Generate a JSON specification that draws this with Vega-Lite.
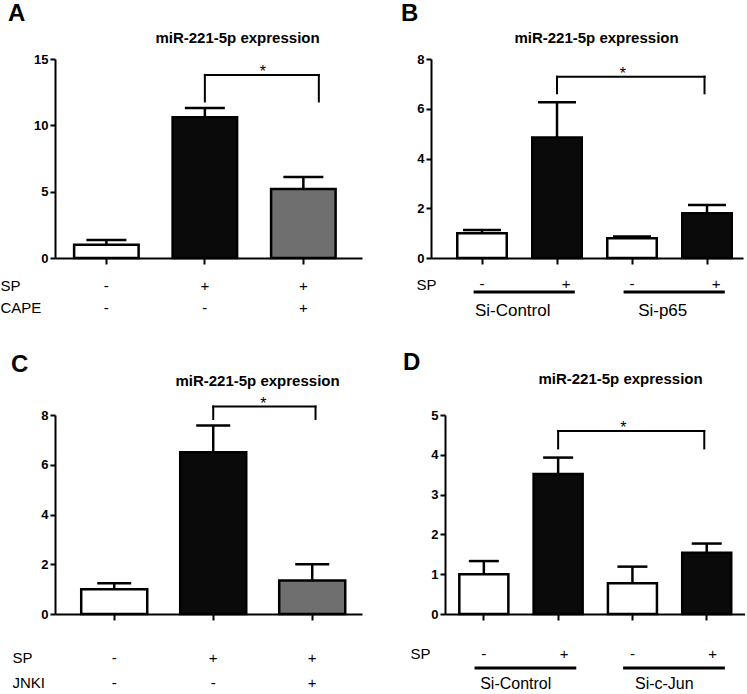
{
  "$schema": "https://vega.github.io/schema/vega-lite/v6.json",
  "background": "white",
  "padding": {"left": 0, "top": 2, "right": 0, "bottom": 0},
  "config": {
    "font": "Liberation Sans",
    "view": {"stroke": null},
    "axis": {"domainColor": "black", "domainWidth": 2, "tickColor": "black", "tickWidth": 2, "labelColor": "black", "titleColor": "black", "grid": false},
    "axisX": {"tickSize": 6, "labelFontSize": 15, "labelAngle": 0, "labelBaseline": "top", "labelPadding": 14, "labelLineHeight": 22, "titleFontSize": 15, "titleFontWeight": "normal", "titleAlign": "left", "titleBaseline": "top", "titleLineHeight": 22},
    "axisY": {"labelFontSize": 13, "labelFontWeight": "bold", "tickSize": 5, "labelPadding": 2, "labelOverlap": false, "titleAngle": 0, "titleFontSize": 15, "titleFontWeight": "bold", "titleAlign": "center", "titleBaseline": "alphabetic"},
    "title": {"fontSize": 24, "fontWeight": "bold", "color": "black", "anchor": "start", "frame": "group", "baseline": "alphabetic"}
  },
  "datasets": {
    "a": [
      {"cond": "-|-", "grp": "ctrl", "mean": 1.0, "upper": 1.35},
      {"cond": "+|-", "grp": "sp", "mean": 10.6, "upper": 11.3},
      {"cond": "+|+", "grp": "inh", "mean": 5.2, "upper": 6.1}
    ],
    "a_br": [{"x1": "+|-", "x2": "+|+", "top": 13.8, "leg": 11.8}],
    "b": [
      {"cond": "Si-Control|-", "grp": "ctrl", "mean": 1.0, "upper": 1.13},
      {"cond": "Si-Control|+", "grp": "sp", "mean": 4.84, "upper": 6.26},
      {"cond": "Si-p65|-", "grp": "ctrl", "mean": 0.79, "upper": 0.86},
      {"cond": "Si-p65|+", "grp": "sp", "mean": 1.8, "upper": 2.13}
    ],
    "b_br": [{"x1": "Si-Control|+", "x2": "Si-p65|+", "top": 7.29, "leg": 6.62}],
    "b_grp": [
      {"name": "Si-Control", "from": "Si-Control|-", "to": "Si-Control|+"},
      {"name": "Si-p65", "from": "Si-p65|-", "to": "Si-p65|+"}
    ],
    "c": [
      {"cond": "-|-", "grp": "ctrl", "mean": 1.0, "upper": 1.24},
      {"cond": "+|-", "grp": "sp", "mean": 6.5, "upper": 7.58},
      {"cond": "+|+", "grp": "inh", "mean": 1.35, "upper": 2.0}
    ],
    "c_br": [{"x1": "+|-", "x2": "+|+", "top": 8.34, "leg": 7.84}],
    "d": [
      {"cond": "Si-Control|-", "grp": "ctrl", "mean": 1.0, "upper": 1.33},
      {"cond": "Si-Control|+", "grp": "sp", "mean": 3.52, "upper": 3.93},
      {"cond": "Si-c-Jun|-", "grp": "ctrl", "mean": 0.77, "upper": 1.19},
      {"cond": "Si-c-Jun|+", "grp": "sp", "mean": 1.54, "upper": 1.77}
    ],
    "d_br": [{"x1": "Si-Control|+", "x2": "Si-c-Jun|+", "top": 4.6, "leg": 4.16}],
    "d_grp": [
      {"name": "Si-Control", "from": "Si-Control|-", "to": "Si-Control|+"},
      {"name": "Si-c-Jun", "from": "Si-c-Jun|-", "to": "Si-c-Jun|+"}
    ]
  },
  "bounds": "flush",
  "spacing": 356,
  "vconcat": [
    {
      "bounds": "flush",
      "spacing": 69,
      "hconcat": [
        {
          "width": 307, "height": 199,
          "title": {"text": "A", "dx": -47, "offset": 4},
          "layer": [
            {"data": {"name": "a"}, "mark": {"type": "bar", "stroke": "black", "strokeWidth": 2.5},
              "encoding": {
                "x": {"field": "cond", "type": "nominal", "scale": {"domain": ["-|-", "+|-", "+|+"], "paddingInner": 0.345, "paddingOuter": 0.231, "align": 0.42},
                  "axis": {"labelExpr": "split(datum.value,'|')", "title": ["SP", "CAPE"], "titleX": -55, "titleY": 20}},
                "y": {"field": "mean", "type": "quantitative", "scale": {"domain": [0, 15], "nice": false},
                  "axis": {"values": [0, 5, 10, 15], "tickCount": 4, "title": "miR-221-5p expression", "titleX": 182, "titleY": -17}},
                "fill": {"field": "grp", "type": "nominal", "scale": {"domain": ["ctrl", "sp", "inh"], "range": ["#ffffff", "#0a0a0a", "#6f6f6f"]}, "legend": null}
              }},
            {"data": {"name": "a"}, "mark": {"type": "rule", "strokeWidth": 2.5, "color": "black"},
              "encoding": {"x": {"field": "cond", "type": "nominal"}, "y": {"field": "mean", "type": "quantitative"}, "y2": {"field": "upper"}}},
            {"data": {"name": "a"}, "mark": {"type": "tick", "thickness": 2.5, "size": 40, "color": "black", "opacity": 1},
              "encoding": {"x": {"field": "cond", "type": "nominal"}, "y": {"field": "upper", "type": "quantitative"}}},
            {"data": {"name": "a_br"}, "mark": {"type": "rule", "strokeWidth": 2, "color": "black", "strokeCap": "square"},
              "encoding": {"x": {"field": "x1", "type": "nominal"}, "x2": {"field": "x2", "bandPosition": 0.74}, "y": {"field": "top", "type": "quantitative"}}},
            {"data": {"name": "a_br"}, "mark": {"type": "rule", "strokeWidth": 2, "color": "black", "strokeCap": "square"},
              "encoding": {"x": {"field": "x1", "type": "nominal"}, "y": {"field": "top", "type": "quantitative"}, "y2": {"field": "leg"}}},
            {"data": {"name": "a_br"}, "mark": {"type": "rule", "strokeWidth": 2, "color": "black", "strokeCap": "square"},
              "encoding": {"x": {"field": "x2", "type": "nominal", "bandPosition": 0.74}, "y": {"field": "top", "type": "quantitative"}, "y2": {"field": "leg"}}},
            {"data": {"name": "a_br"}, "mark": {"type": "text", "fontSize": 16, "color": "black", "baseline": "alphabetic", "dy": 2},
              "encoding": {"x": {"field": "x1", "type": "nominal", "bandPosition": 1.4}, "y": {"field": "top", "type": "quantitative"}, "text": {"value": "*"}}}
          ]
        },
        {
          "width": 312, "height": 199,
          "title": {"text": "B", "dx": -30, "offset": 4},
          "layer": [
            {"data": {"name": "b"}, "mark": {"type": "bar", "stroke": "black", "strokeWidth": 2.5},
              "encoding": {
                "x": {"field": "cond", "type": "nominal", "scale": {"domain": ["Si-Control|-", "Si-Control|+", "Si-p65|-", "Si-p65|+"], "paddingInner": 0.34, "paddingOuter": 0.25, "align": 0.7},
                  "axis": {"labelExpr": "split(datum.value,'|')[1]", "labelOffset": {"condition": {"test": "indexof(datum.value, '|+') > 0", "value": 9}, "value": 0}, "labelPadding": 12, "title": "SP", "titleX": -15, "titleY": 19}},
                "y": {"field": "mean", "type": "quantitative", "scale": {"domain": [0, 8], "nice": false},
                  "axis": {"values": [0, 2, 4, 6, 8], "tickCount": 5, "title": "miR-221-5p expression", "titleX": 165, "titleY": -17}},
                "fill": {"field": "grp", "type": "nominal", "scale": {"domain": ["ctrl", "sp", "inh"], "range": ["#ffffff", "#0a0a0a", "#6f6f6f"]}, "legend": null}
              }},
            {"data": {"name": "b"}, "mark": {"type": "rule", "strokeWidth": 2.5, "color": "black"},
              "encoding": {"x": {"field": "cond", "type": "nominal"}, "y": {"field": "mean", "type": "quantitative"}, "y2": {"field": "upper"}}},
            {"data": {"name": "b"}, "mark": {"type": "tick", "thickness": 2.5, "size": 38, "color": "black", "opacity": 1},
              "encoding": {"x": {"field": "cond", "type": "nominal"}, "y": {"field": "upper", "type": "quantitative"}}},
            {"data": {"name": "b_br"}, "mark": {"type": "rule", "strokeWidth": 2, "color": "black", "strokeCap": "square"},
              "encoding": {"x": {"field": "x1", "type": "nominal"}, "x2": {"field": "x2", "bandPosition": 0.45}, "y": {"field": "top", "type": "quantitative"}}},
            {"data": {"name": "b_br"}, "mark": {"type": "rule", "strokeWidth": 2, "color": "black", "strokeCap": "square"},
              "encoding": {"x": {"field": "x1", "type": "nominal"}, "y": {"field": "top", "type": "quantitative"}, "y2": {"field": "leg"}}},
            {"data": {"name": "b_br"}, "mark": {"type": "rule", "strokeWidth": 2, "color": "black", "strokeCap": "square"},
              "encoding": {"x": {"field": "x2", "type": "nominal", "bandPosition": 0.45}, "y": {"field": "top", "type": "quantitative"}, "y2": {"field": "leg"}}},
            {"data": {"name": "b_br"}, "mark": {"type": "text", "fontSize": 16, "color": "black", "baseline": "alphabetic", "dy": 2},
              "encoding": {"x": {"field": "x1", "type": "nominal", "bandPosition": 1.83}, "y": {"field": "top", "type": "quantitative"}, "text": {"value": "*"}}},
            {"data": {"name": "b_grp"}, "mark": {"type": "rule", "strokeWidth": 3, "color": "black", "yOffset": 34},
              "encoding": {"x": {"field": "from", "type": "nominal", "bandPosition": 0.33}, "x2": {"field": "to", "bandPosition": 0.86},
                "y": {"datum": 0, "type": "quantitative"}}},
            {"data": {"name": "b_grp"}, "mark": {"type": "text", "fontSize": 17, "color": "black", "baseline": "top", "dy": 45},
              "encoding": {"x": {"field": "from", "type": "nominal", "bandPosition": 1.12},
                "y": {"datum": 0, "type": "quantitative"}, "text": {"field": "name"}}}
          ]
        }
      ]
    },
    {
      "bounds": "flush",
      "spacing": 83,
      "hconcat": [
        {
          "width": 307, "height": 199,
          "title": {"text": "C", "dx": -44, "offset": -4},
          "layer": [
            {"data": {"name": "c"}, "mark": {"type": "bar", "stroke": "black", "strokeWidth": 2.5},
              "encoding": {
                "x": {"field": "cond", "type": "nominal", "scale": {"domain": ["-|-", "+|-", "+|+"], "paddingInner": 0.333, "paddingOuter": 0.217, "align": 0.61},
                  "axis": {"labelExpr": "split(datum.value,'|')", "labelPadding": 30, "labelLineHeight": 25, "title": ["SP", "JNKI"], "titleLineHeight": 25, "titleX": -43, "titleY": 36}},
                "y": {"field": "mean", "type": "quantitative", "scale": {"domain": [0, 8], "nice": false},
                  "axis": {"values": [0, 2, 4, 6, 8], "tickCount": 5, "title": "miR-221-5p expression", "titleX": 202, "titleY": -30}},
                "fill": {"field": "grp", "type": "nominal", "scale": {"domain": ["ctrl", "sp", "inh"], "range": ["#ffffff", "#0a0a0a", "#6f6f6f"]}, "legend": null}
              }},
            {"data": {"name": "c"}, "mark": {"type": "rule", "strokeWidth": 2.5, "color": "black"},
              "encoding": {"x": {"field": "cond", "type": "nominal"}, "y": {"field": "mean", "type": "quantitative"}, "y2": {"field": "upper"}}},
            {"data": {"name": "c"}, "mark": {"type": "tick", "thickness": 2.5, "size": 34, "color": "black", "opacity": 1},
              "encoding": {"x": {"field": "cond", "type": "nominal"}, "y": {"field": "upper", "type": "quantitative"}}},
            {"data": {"name": "c_br"}, "mark": {"type": "rule", "strokeWidth": 2, "color": "black", "strokeCap": "square"},
              "encoding": {"x": {"field": "x1", "type": "nominal"}, "x2": {"field": "x2", "bandPosition": 0.55}, "y": {"field": "top", "type": "quantitative"}}},
            {"data": {"name": "c_br"}, "mark": {"type": "rule", "strokeWidth": 2, "color": "black", "strokeCap": "square"},
              "encoding": {"x": {"field": "x1", "type": "nominal"}, "y": {"field": "top", "type": "quantitative"}, "y2": {"field": "leg"}}},
            {"data": {"name": "c_br"}, "mark": {"type": "rule", "strokeWidth": 2, "color": "black", "strokeCap": "square"},
              "encoding": {"x": {"field": "x2", "type": "nominal", "bandPosition": 0.55}, "y": {"field": "top", "type": "quantitative"}, "y2": {"field": "leg"}}},
            {"data": {"name": "c_br"}, "mark": {"type": "text", "fontSize": 16, "color": "black", "baseline": "alphabetic", "dy": 2},
              "encoding": {"x": {"field": "x1", "type": "nominal", "bandPosition": 1.26}, "y": {"field": "top", "type": "quantitative"}, "text": {"value": "*"}}}
          ]
        },
        {
          "width": 300, "height": 199,
          "title": {"text": "D", "dx": -42, "offset": -4},
          "layer": [
            {"data": {"name": "d"}, "mark": {"type": "bar", "stroke": "black", "strokeWidth": 2.5},
              "encoding": {
                "x": {"field": "cond", "type": "nominal", "scale": {"domain": ["Si-Control|-", "Si-Control|+", "Si-c-Jun|-", "Si-c-Jun|+"], "paddingInner": 0.34, "paddingOuter": 0.189, "align": 0.51},
                  "axis": {"labelExpr": "split(datum.value,'|')[1]", "labelOffset": {"condition": {"test": "indexof(datum.value, '|+') > 0", "value": 6}, "value": 0}, "labelPadding": 26, "title": "SP", "titleX": -35, "titleY": 32}},
                "y": {"field": "mean", "type": "quantitative", "scale": {"domain": [0, 5], "nice": false},
                  "axis": {"values": [0, 1, 2, 3, 4, 5], "tickCount": 6, "title": "miR-221-5p expression", "titleX": 175, "titleY": -32}},
                "fill": {"field": "grp", "type": "nominal", "scale": {"domain": ["ctrl", "sp", "inh"], "range": ["#ffffff", "#0a0a0a", "#6f6f6f"]}, "legend": null}
              }},
            {"data": {"name": "d"}, "mark": {"type": "rule", "strokeWidth": 2.5, "color": "black"},
              "encoding": {"x": {"field": "cond", "type": "nominal"}, "y": {"field": "mean", "type": "quantitative"}, "y2": {"field": "upper"}}},
            {"data": {"name": "d"}, "mark": {"type": "tick", "thickness": 2.5, "size": 30, "color": "black", "opacity": 1},
              "encoding": {"x": {"field": "cond", "type": "nominal"}, "y": {"field": "upper", "type": "quantitative"}}},
            {"data": {"name": "d_br"}, "mark": {"type": "rule", "strokeWidth": 2, "color": "black", "strokeCap": "square"},
              "encoding": {"x": {"field": "x1", "type": "nominal"}, "x2": {"field": "x2", "bandPosition": 0.45}, "y": {"field": "top", "type": "quantitative"}}},
            {"data": {"name": "d_br"}, "mark": {"type": "rule", "strokeWidth": 2, "color": "black", "strokeCap": "square"},
              "encoding": {"x": {"field": "x1", "type": "nominal"}, "y": {"field": "top", "type": "quantitative"}, "y2": {"field": "leg"}}},
            {"data": {"name": "d_br"}, "mark": {"type": "rule", "strokeWidth": 2, "color": "black", "strokeCap": "square"},
              "encoding": {"x": {"field": "x2", "type": "nominal", "bandPosition": 0.45}, "y": {"field": "top", "type": "quantitative"}, "y2": {"field": "leg"}}},
            {"data": {"name": "d_br"}, "mark": {"type": "text", "fontSize": 16, "color": "black", "baseline": "alphabetic", "dy": 2},
              "encoding": {"x": {"field": "x1", "type": "nominal", "bandPosition": 1.83}, "y": {"field": "top", "type": "quantitative"}, "text": {"value": "*"}}},
            {"data": {"name": "d_grp"}, "mark": {"type": "rule", "strokeWidth": 3, "color": "black", "yOffset": 54},
              "encoding": {"x": {"field": "from", "type": "nominal", "bandPosition": 0.31}, "x2": {"field": "to", "bandPosition": 0.87},
                "y": {"datum": 0, "type": "quantitative"}}},
            {"data": {"name": "d_grp"}, "mark": {"type": "text", "fontSize": 16, "color": "black", "baseline": "top", "dy": 62},
              "encoding": {"x": {"field": "from", "type": "nominal", "bandPosition": 1.15},
                "y": {"datum": 0, "type": "quantitative"}, "text": {"field": "name"}}}
          ]
        }
      ]
    }
  ]
}
